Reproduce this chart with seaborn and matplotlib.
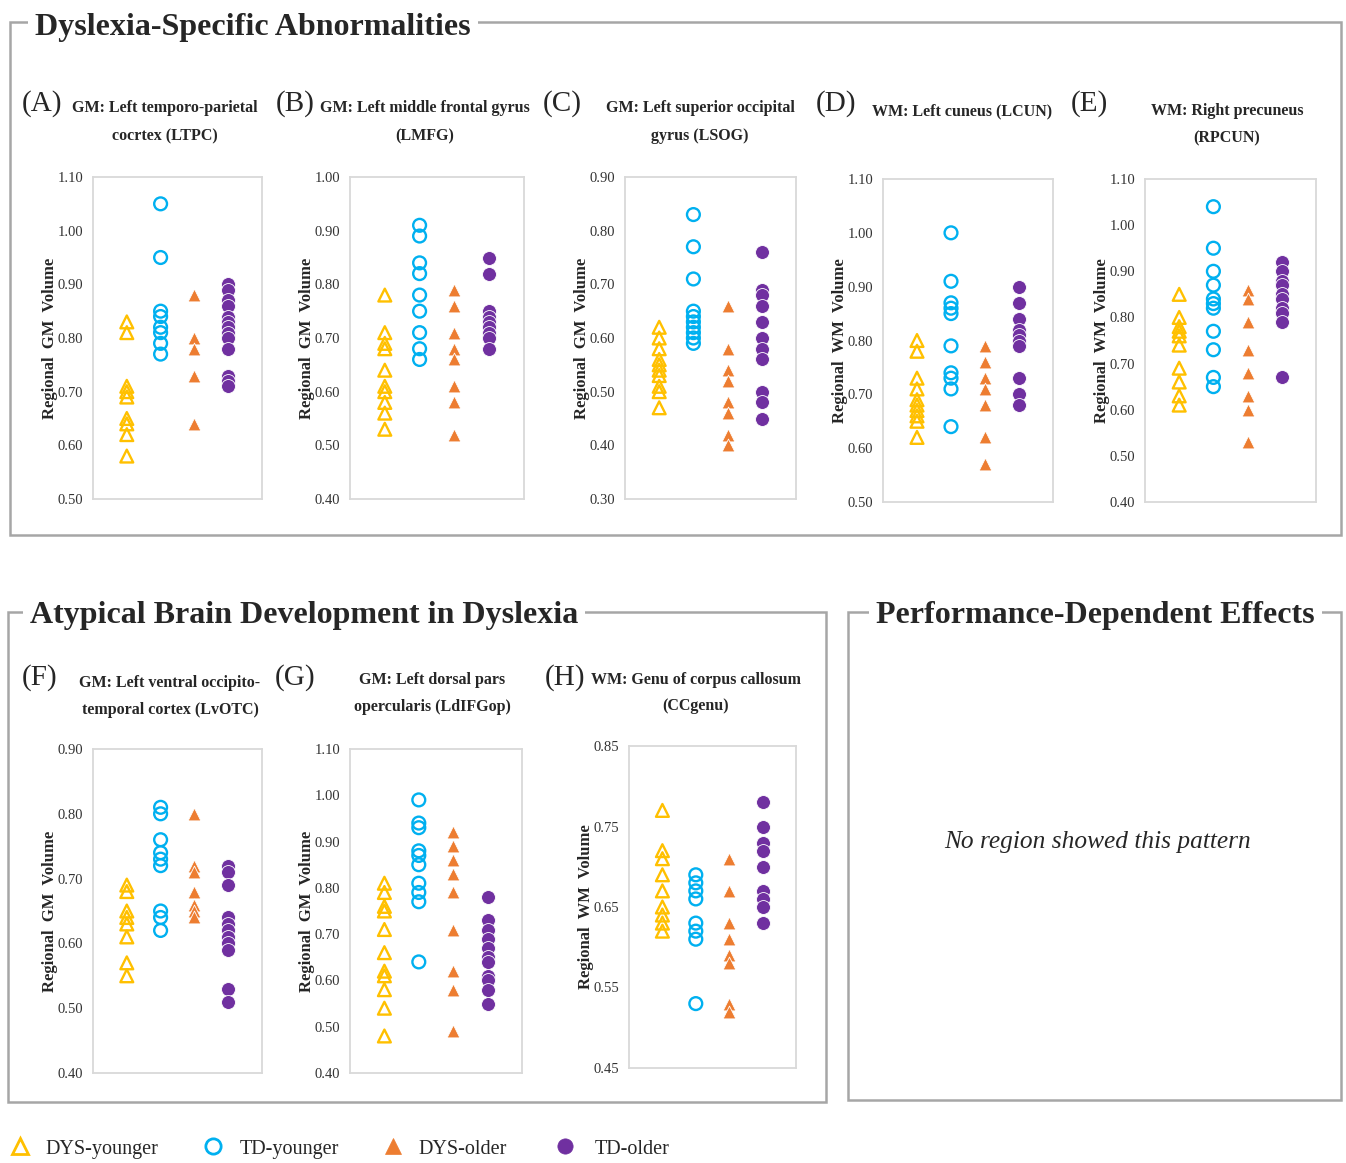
import numpy as np
import pandas as pd
import seaborn as sns
import matplotlib.pyplot as plt
from matplotlib.patches import Rectangle
from matplotlib.lines import Line2D
from matplotlib.ticker import FormatStrFormatter

# group names, colours and markers
groups = ["DYS-younger", "TD-younger", "DYS-older", "TD-older"]
colors = ["#FFC000", "#00B0F0", "#ED7D31", "#7030A0"]
markers = ["^", "o", "^", "o"]
filled = [False, False, True, True]

# values (yellow, blue, orange, purple)
A_vals = [[0.83, 0.81, 0.71, 0.70, 0.69, 0.65, 0.64, 0.62, 0.58],
          [1.05, 0.95, 0.85, 0.84, 0.82, 0.81, 0.79, 0.77],
          [0.88, 0.80, 0.78, 0.73, 0.64],
          [0.90, 0.89, 0.87, 0.86, 0.84, 0.83, 0.82, 0.81, 0.80, 0.78, 0.73, 0.72, 0.71]]
B_vals = [[0.78, 0.71, 0.69, 0.68, 0.64, 0.61, 0.60, 0.58, 0.56, 0.53],
          [0.91, 0.89, 0.84, 0.82, 0.78, 0.75, 0.71, 0.68, 0.66],
          [0.79, 0.76, 0.71, 0.68, 0.66, 0.61, 0.58, 0.52],
          [0.85, 0.82, 0.75, 0.74, 0.73, 0.72, 0.71, 0.70, 0.68]]
C_vals = [[0.62, 0.60, 0.58, 0.56, 0.55, 0.54, 0.53, 0.51, 0.50, 0.47],
          [0.83, 0.77, 0.71, 0.65, 0.64, 0.63, 0.62, 0.61, 0.60, 0.59],
          [0.66, 0.58, 0.54, 0.52, 0.48, 0.46, 0.42, 0.40],
          [0.76, 0.69, 0.68, 0.66, 0.63, 0.60, 0.58, 0.56, 0.50, 0.48, 0.45]]
D_vals = [[0.80, 0.78, 0.73, 0.71, 0.69, 0.68, 0.67, 0.66, 0.65, 0.62],
          [1.00, 0.91, 0.87, 0.86, 0.85, 0.79, 0.74, 0.73, 0.71, 0.64],
          [0.79, 0.76, 0.73, 0.71, 0.68, 0.62, 0.57],
          [0.90, 0.87, 0.84, 0.82, 0.81, 0.80, 0.79, 0.73, 0.70, 0.68]]
E_vals = [[0.85, 0.80, 0.78, 0.77, 0.76, 0.74, 0.69, 0.66, 0.63, 0.61],
          [1.04, 0.95, 0.90, 0.87, 0.84, 0.83, 0.82, 0.77, 0.73, 0.67, 0.65],
          [0.86, 0.84, 0.79, 0.73, 0.68, 0.63, 0.60, 0.53],
          [0.92, 0.90, 0.88, 0.87, 0.85, 0.84, 0.82, 0.81, 0.79, 0.67]]
F_vals = [[0.69, 0.68, 0.65, 0.64, 0.63, 0.61, 0.57, 0.55],
          [0.81, 0.80, 0.76, 0.74, 0.73, 0.72, 0.65, 0.64, 0.62],
          [0.80, 0.72, 0.71, 0.68, 0.66, 0.65, 0.64],
          [0.72, 0.71, 0.69, 0.64, 0.63, 0.62, 0.61, 0.60, 0.59, 0.53, 0.51]]
G_vals = [[0.81, 0.79, 0.76, 0.75, 0.71, 0.66, 0.62, 0.61, 0.58, 0.54, 0.48],
          [0.99, 0.94, 0.93, 0.88, 0.87, 0.85, 0.81, 0.79, 0.77, 0.64],
          [0.92, 0.89, 0.86, 0.83, 0.79, 0.71, 0.62, 0.58, 0.49],
          [0.78, 0.73, 0.71, 0.69, 0.67, 0.65, 0.64, 0.61, 0.60, 0.58, 0.55]]
H_vals = [[0.77, 0.72, 0.71, 0.69, 0.67, 0.65, 0.64, 0.63, 0.62],
          [0.69, 0.68, 0.67, 0.66, 0.63, 0.62, 0.61, 0.53],
          [0.71, 0.67, 0.63, 0.61, 0.59, 0.58, 0.53, 0.52],
          [0.78, 0.75, 0.73, 0.72, 0.70, 0.67, 0.66, 0.65, 0.63]]

# letter, title lines, y label, y ticks, values, axes box (left, top, right, bottom px),
# letter pos, title centre x, title line centres y
panels = [
    ("(A)", ["GM: Left temporo-parietal", "cocrtex (LTPC)"], "Regional GM Volume",
     [0.5, 0.6, 0.7, 0.8, 0.9, 1.0, 1.1], A_vals, (93, 177, 262, 499), (42, 104), 165, (108, 136)),
    ("(B)", ["GM: Left middle frontal gyrus", "(LMFG)"], "Regional GM Volume",
     [0.4, 0.5, 0.6, 0.7, 0.8, 0.9, 1.0], B_vals, (350, 177, 524, 499), (295, 104), 425, (108, 136)),
    ("(C)", ["GM: Left superior occipital", "gyrus (LSOG)"], "Regional GM Volume",
     [0.3, 0.4, 0.5, 0.6, 0.7, 0.8, 0.9], C_vals, (625, 177, 796, 499), (562, 104), 700, (108, 136)),
    ("(D)", ["WM: Left cuneus (LCUN)"], "Regional WM Volume",
     [0.5, 0.6, 0.7, 0.8, 0.9, 1.0, 1.1], D_vals, (883, 179, 1053, 502), (836, 104), 962, (111,)),
    ("(E)", ["WM: Right precuneus", "(RPCUN)"], "Regional WM Volume",
     [0.4, 0.5, 0.6, 0.7, 0.8, 0.9, 1.0, 1.1], E_vals, (1145, 179, 1316, 502), (1089, 104), 1227, (111, 138)),
    ("(F)", ["GM: Left ventral occipito-", "temporal cortex (LvOTC)"], "Regional GM Volume",
     [0.4, 0.5, 0.6, 0.7, 0.8, 0.9], F_vals, (93, 749, 262, 1073), (40, 678), 170, (683, 710)),
    ("(G)", ["GM: Left dorsal pars", "opercularis (LdIFGop)"], "Regional GM Volume",
     [0.4, 0.5, 0.6, 0.7, 0.8, 0.9, 1.0, 1.1], G_vals, (350, 749, 522, 1073), (295, 678), 432, (680, 707)),
    ("(H)", ["WM: Genu of corpus callosum", "(CCgenu)"], "Regional WM Volume",
     [0.45, 0.55, 0.65, 0.75, 0.85], H_vals, (629, 746, 796, 1068), (565, 678), 696, (680, 706)),
]

W, H = 1346, 1163
sns.set_theme(style="white")
plt.rcParams["font.family"] = ["Liberation Serif", "DejaVu Serif"]

fig = plt.figure(figsize=(W / 100, H / 100), dpi=100)


def fx(x):
    return x / W


def fy(y):
    return 1 - y / H


# section boxes with titles breaking the border
boxes = [
    ((10, 22, 1341, 535), "Dyslexia-Specific Abnormalities", 35, 28),
    ((8, 612, 826, 1102), "Atypical Brain Development in Dyslexia", 30, 616),
    ((848, 612, 1341, 1100), "Performance-Dependent Effects", 876, 616),
]
for (l, t, r, b), name, tx, ty in boxes:
    fig.patches.append(Rectangle((fx(l), fy(b)), fx(r - l), (b - t) / H,
                                 transform=fig.transFigure, fill=False,
                                 edgecolor="#A6A6A6", linewidth=1.8, zorder=0))
    fig.text(fx(tx), fy(ty), name, fontsize=23, fontweight="bold", ha="left", va="center",
             bbox=dict(facecolor="white", edgecolor="none", pad=5), zorder=2)

fig.text(fx(1098), fy(842), "No region showed this pattern", fontsize=18.3,
         style="italic", ha="center", va="center")

for letter, lines, ylab, yticks, vals, (l, t, r, b), (lx, ly), tcx, tys in panels:
    ax = fig.add_axes([fx(l), fy(b), fx(r - l), (b - t) / H])
    for i, g in enumerate(groups):
        df = pd.DataFrame({"pos": i, "value": vals[i]})
        size = 100 if filled[i] and markers[i] == "o" else 85
        sns.scatterplot(data=df, x="pos", y="value", ax=ax, marker=markers[i],
                        color=colors[i], s=size, legend=False, zorder=3 + i)
        pts = ax.collections[-1]
        if filled[i]:
            pts.set_edgecolor("white")
            pts.set_linewidth(0.6)
        else:
            pts.set_facecolor("none")
            pts.set_edgecolor(colors[i])
            pts.set_linewidth(1.7)
    ax.set_xlim(-1, 4)
    ax.set_ylim(yticks[0], yticks[-1])
    ax.set_yticks(yticks)
    ax.yaxis.set_major_formatter(FormatStrFormatter("%.2f"))
    ax.set_xticks([])
    ax.set_xlabel("")
    ax.set_ylabel(ylab.replace(" ", "  "), fontsize=12, fontweight="bold", va="center")
    ax.yaxis.set_label_coords(-43 / (r - l), 0.5)
    ax.tick_params(axis="y", length=0, labelsize=10.5, pad=7, labelcolor="#333333")
    for sp in ax.spines.values():
        sp.set_color("#D9D9D9")
        sp.set_linewidth(1.3)
    fig.text(fx(lx), fy(ly), letter, fontsize=21, ha="center", va="center")
    for line, ty in zip(lines, tys):
        fig.text(fx(tcx), fy(ty), line, fontsize=11.5, fontweight="bold",
                 ha="center", va="center")

# legend along the bottom, placed by hand
legend_marker_x = [20, 213, 393, 565]
legend_text_x = [45, 240, 418, 595]
for i, g in enumerate(groups):
    fig.add_artist(Line2D([fx(legend_marker_x[i])], [fy(1146)], transform=fig.transFigure,
                          linestyle="none", marker=markers[i], markersize=11,
                          markerfacecolor=colors[i] if filled[i] else "none",
                          markeredgecolor=colors[i],
                          markeredgewidth=2 if not filled[i] else 0.5))
    fig.text(fx(legend_text_x[i]), fy(1147), g, fontsize=14.5, ha="left",
             va="center_baseline")

fig.savefig("out.png", dpi=100)
